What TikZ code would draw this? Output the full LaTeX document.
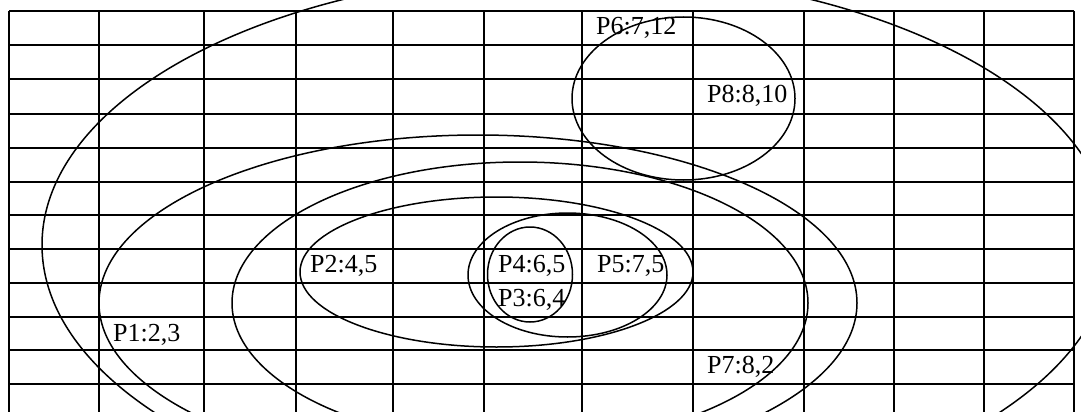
\documentclass[tikz,border=0pt]{standalone}
\usepackage{fontspec}
\setmainfont{Liberation Serif}
\begin{document}
\begin{tikzpicture}[x=1pt,y=-1pt,
  gridline/.style={line width=2pt,black},
  ring/.style={line width=1.5pt,black},
  lbl/.style={anchor=base west,inner sep=0pt,font=\fontsize{26}{30}\selectfont}]
\useasboundingbox (0,0) rectangle (1081,412);
\clip (0,0) rectangle (1081,412);
\fill[white] (0,0) rectangle (1081,412);
% grid
\foreach \x in {9,99,204,296,393,484,582,693,804,894,984,1074}
  \draw[gridline] (\x,11) -- (\x,418);
\foreach \y in {11,45,79,114,148,182,215,249,283,317,350,384,418}
  \draw[gridline] (9,\y) -- (1074,\y);
% ellipse centres
\coordinate (c1) at (577,245);
\coordinate (c2) at (478,303);
\coordinate (c3) at (520,303);
\coordinate (c4) at (496.5,272);
\coordinate (c5) at (567.5,275);
\coordinate (c6) at (530,274.5);
\coordinate (c7) at (683.5,98.5);
\draw[ring] (c1) ellipse [x radius=535, y radius=273];
\draw[ring] (c2) ellipse [x radius=379, y radius=168];
\draw[ring] (c3) ellipse [x radius=288, y radius=141];
\draw[ring] (c4) ellipse [x radius=196.5, y radius=75];
\draw[ring] (c5) ellipse [x radius=99.5, y radius=62];
\draw[ring] (c6) ellipse [x radius=42.5, y radius=47.5];
\draw[ring] (c7) ellipse [x radius=111.5, y radius=81.5];
% labels
\node[lbl] (p1) at (113,341) {P1:2,3};
\node[lbl] (p2) at (310,272.5) {P2:4,5};
\node[lbl] (p4) at (498,272.5) {P4:6,5};
\node[lbl] (p3) at (498,306.5) {P3:6,4};
\node[lbl] (p5) at (597,272.5) {P5:7,5};
\node[lbl] (p6) at (596,34.5) {P6:7,12};
\node[lbl] (p8) at (707,102.5) {P8:8,10};
\node[lbl] (p7) at (707,373.5) {P7:8,2};
\end{tikzpicture}
\end{document}
